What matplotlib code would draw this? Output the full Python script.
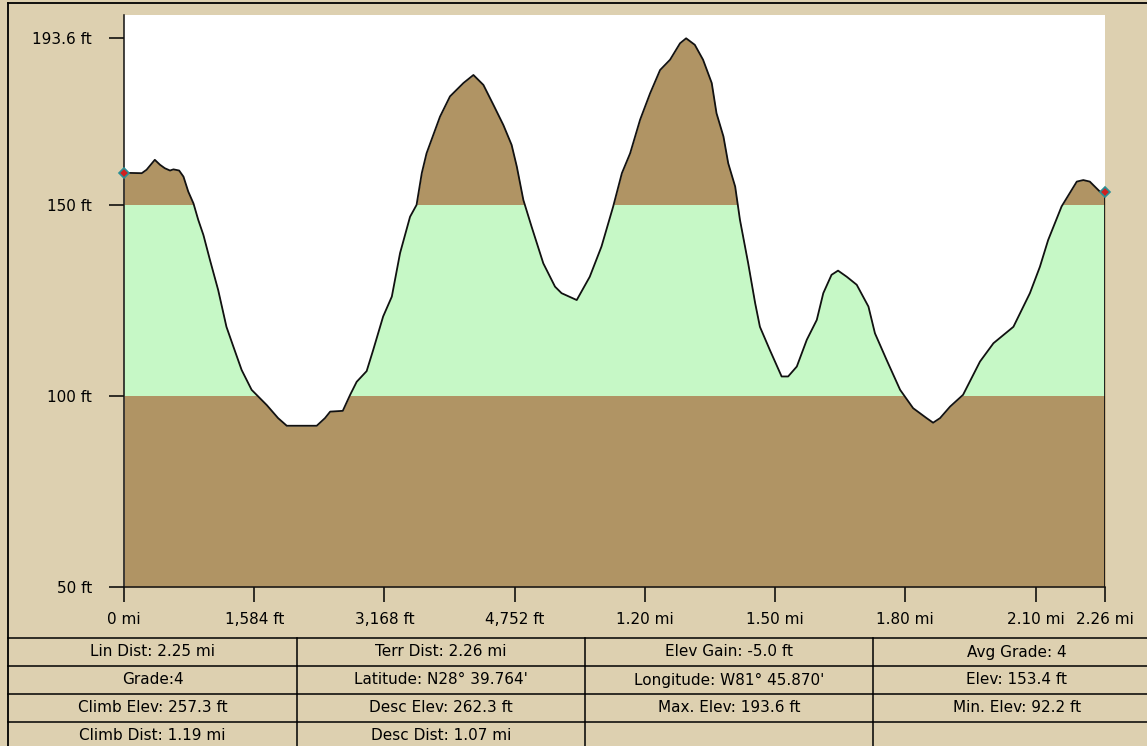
import numpy as np
import matplotlib.pyplot as plt
from matplotlib.lines import Line2D

# elevation profile, distance in miles, elevation in feet
dist_mi = [0.000, 0.041, 0.052, 0.071, 0.083, 0.094, 0.106, 0.114, 0.127, 0.137,
           0.148, 0.160, 0.171, 0.183, 0.198, 0.217, 0.236, 0.252, 0.271, 0.294,
           0.329, 0.355, 0.375, 0.444, 0.463, 0.475, 0.504, 0.521, 0.536, 0.559,
           0.574, 0.597, 0.617, 0.636, 0.659, 0.674, 0.686, 0.697, 0.728, 0.751,
           0.782, 0.805, 0.828, 0.851, 0.874, 0.893, 0.905, 0.920, 0.939, 0.966,
           0.993, 1.008, 1.043, 1.073, 1.100, 1.127, 1.147, 1.166, 1.189, 1.212,
           1.235, 1.258, 1.281, 1.295, 1.315, 1.334, 1.354, 1.365, 1.381, 1.392,
           1.408, 1.419, 1.438, 1.454, 1.465, 1.488, 1.515, 1.530, 1.550, 1.573,
           1.596, 1.611, 1.630, 1.645, 1.665, 1.688, 1.715, 1.730, 1.757, 1.788,
           1.818, 1.849, 1.864, 1.880, 1.903, 1.933, 1.972, 2.003, 2.049, 2.087,
           2.110, 2.129, 2.160, 2.195, 2.210, 2.225, 2.248, 2.260]
elev_ft = [158.4, 158.3, 159.2, 161.8, 160.5, 159.6, 159.0, 159.3, 159.0, 157.4,
           153.5, 150.4, 146.1, 142.1, 135.6, 127.7, 118.1, 112.9, 106.8, 101.6,
           97.6, 94.2, 92.2, 92.2, 94.2, 95.9, 96.1, 100.3, 103.7, 106.5,
           112.0, 120.8, 126.0, 137.4, 146.9, 150.0, 158.3, 163.5, 173.1, 178.4,
           181.9, 184.0, 181.4, 176.2, 170.9, 165.7, 160.0, 151.3, 144.3, 134.7,
           128.6, 126.9, 125.1, 131.2, 139.1, 149.6, 158.3, 163.5, 172.3, 179.2,
           185.3, 188.0, 192.3, 193.6, 191.9, 188.0, 181.9, 174.0, 167.9, 160.9,
           154.8, 146.1, 134.7, 124.3, 118.1, 112.0, 105.1, 105.1, 107.7, 114.7,
           119.9, 126.9, 131.7, 132.8, 131.2, 129.1, 123.4, 116.4, 109.4, 101.6,
           96.8, 94.2, 93.0, 94.2, 97.2, 100.3, 109.0, 113.8, 118.1, 126.9,
           133.8, 140.8, 149.6, 156.1, 156.5, 156.1, 153.5, 153.4]

x_ticks = [0, 0.3, 0.6, 0.9, 1.2, 1.5, 1.8, 2.1, 2.26]
x_labels = ['0 mi', '1,584 ft', '3,168 ft', '4,752 ft', '1.20 mi', '1.50 mi',
            '1.80 mi', '2.10 mi', '2.26 mi']
y_ticks = [50, 100, 150, 193.6]
y_labels = ['50 ft', '100 ft', '150 ft', '193.6 ft']

stats = [
    ['Lin Dist: 2.25 mi', 'Terr Dist: 2.26 mi', 'Elev Gain: -5.0 ft', 'Avg Grade: 4'],
    ['Grade:4', "Latitude: N28\u00b0 39.764'", "Longitude: W81\u00b0 45.870'", 'Elev: 153.4 ft'],
    ['Climb Elev: 257.3 ft', 'Desc Elev: 262.3 ft', 'Max. Elev: 193.6 ft', 'Min. Elev: 92.2 ft'],
    ['Climb Dist: 1.19 mi', 'Desc Dist: 1.07 mi', '', ''],
]

bg = '#DDD0B0'
brown = '#B09464'
green = '#C6F8C6'

W, H = 1147, 746
fig = plt.figure(figsize=(W / 100, H / 100), dpi=100, facecolor=bg)
plt.rcParams['font.family'] = 'DejaVu Sans'

ax = fig.add_axes([124 / W, 1 - 587 / H, (1105 - 124) / W, (587 - 15) / H])
ax.set_facecolor('white')

x = np.array(dist_mi)
y = np.array(elev_ft)

# brown ground under the curve, green band 100-150 ft clipped to it
fill = ax.fill_between(x, 50, y, color=brown, lw=0, zorder=1)
band = ax.axhspan(100, 150, color=green, lw=0, zorder=2)
band.set_clip_path(fill.get_paths()[0], ax.transData)

ax.plot(x, y, color='#111111', lw=1.3, zorder=3)
ax.vlines(x[-1], 50, y[-1], color='#111111', lw=1.3, zorder=3)
ax.plot([x[0], x[-1]], [y[0], y[-1]], linestyle='none', marker='D', ms=5,
        mfc='#d02020', mec='#2a8f95', mew=1.2, zorder=4, clip_on=False)

ax.set_xlim(0, 2.26)
ax.set_ylim(50, 199.7)
ax.set_xticks(x_ticks)
ax.set_xticklabels(x_labels)
ax.set_yticks(y_ticks)
ax.set_yticklabels(y_labels)
ax.tick_params(axis='x', direction='out', length=11, width=1.1, pad=7, labelsize=11)
ax.tick_params(axis='y', direction='out', length=11, width=1.1, pad=12, labelsize=11)
for s in ['top', 'right']:
    ax.spines[s].set_visible(False)
for s in ['left', 'bottom']:
    ax.spines[s].set_linewidth(1.1)
    ax.spines[s].set_color('#111111')

# figure border
fig.add_artist(Line2D([8 / W, 8 / W], [0, 1 - 3 / H], color='black', lw=1.3))
fig.add_artist(Line2D([8 / W, 1], [1 - 3 / H, 1 - 3 / H], color='black', lw=1.3))

# stats table under the chart
row_lines = [638, 666, 694, 722]
col_lines = [8, 297, 585, 873, 1161]
for r in row_lines:
    fig.add_artist(Line2D([8 / W, 1], [1 - r / H, 1 - r / H], color='black', lw=1.1))
for c in col_lines[1:-1]:
    fig.add_artist(Line2D([c / W, c / W], [0, 1 - 638 / H], color='black', lw=1.1))
for i, row in enumerate(stats):
    yc = row_lines[i] + 14
    for j, txt in enumerate(row):
        xc = (col_lines[j] + col_lines[j + 1]) / 2
        fig.text(xc / W, 1 - yc / H, txt, ha='center', va='center', fontsize=11)

fig.savefig('out.png', dpi=100, facecolor=bg)
